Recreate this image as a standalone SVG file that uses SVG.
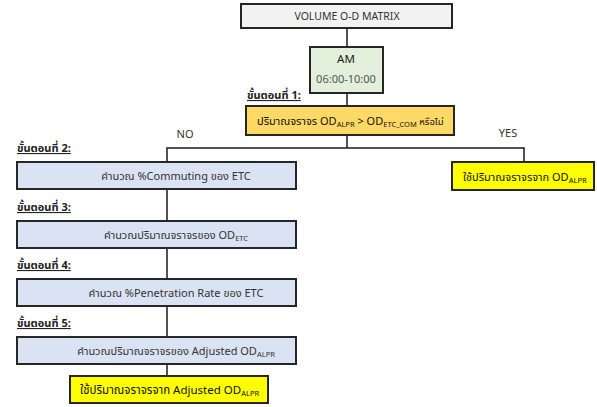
<svg xmlns="http://www.w3.org/2000/svg" width="597" height="407" viewBox="0 0 597 407">
  <style>
    text { font-family: Tahoma, "Noto Sans Thai", "Noto Sans", "DejaVu Sans", sans-serif; }
    .box { stroke: #262626; stroke-width: 2; }
    .grey { fill: #f2f2f2; }
    .green { fill: #e2efda; }
    .gold { fill: #ffd966; }
    .blue { fill: #dae3f3; }
    .yellow { fill: #ffff00; }
    .lbl { font-size: 11px; fill: #333333; text-anchor: middle; }
    .lblk { font-size: 11.5px; fill: #111111; }
    .head { font-size: 11px; font-weight: bold; fill: #222222; text-decoration: underline; }
    .sub { font-size: 7.5px; }
    .conn { stroke: #1a1a1a; stroke-width: 1.5; fill: none; }
  </style>

  <g id="connectors">
    <line class="conn" x1="347" y1="28" x2="347" y2="47"/>
    <line class="conn" x1="347" y1="93" x2="347" y2="106"/>
    <polyline class="conn" points="347,135 347,148"/>
    <polyline class="conn" points="167,162 167,148 524,148 524,162"/>
    <line class="conn" x1="167" y1="189" x2="167" y2="221"/>
    <line class="conn" x1="167" y1="248" x2="167" y2="279"/>
    <line class="conn" x1="167" y1="306" x2="167" y2="337"/>
    <line class="conn" x1="167" y1="364" x2="167" y2="376"/>
    <text x="185" y="138" class="lbl">NO</text>
    <text x="508" y="137" class="lbl">YES</text>
  </g>

  <g id="volume">
    <rect class="box grey" x="241" y="4" width="211" height="24"/>
    <text x="347" y="20" class="lbl" style="font-size:10.5px">VOLUME O-D MATRIX</text>
  </g>

  <g id="am">
    <rect class="box green" x="310" y="47" width="73" height="46"/>
    <text x="346" y="63" class="lbl" style="font-size:11.5px;fill:#222">AM</text>
    <text x="346" y="83" class="lbl" style="fill:#555">06:00-10:00</text>
  </g>

  <g id="step1">
    <text x="247" y="99" class="head">ขั้นตอนที่ 1:</text>
    <rect class="box gold" x="246" y="106" width="208" height="29"/>
    <text x="257" y="125" class="lblk" style="font-size:11px">ปริมาณจราจร OD<tspan class="sub" dy="2">ALPR</tspan><tspan dy="-2"> &gt; OD</tspan><tspan class="sub" dy="2">ETC_COM</tspan><tspan dy="-2" style="font-size:9.5px"> หรือไม่</tspan></text>
  </g>

  <g id="use-alpr">
    <rect class="box yellow" x="452" y="162" width="142" height="28"/>
    <text x="463" y="181" class="lblk" style="font-size:11px">ใช้ปริมาณจราจรจาก OD<tspan class="sub" dy="2">ALPR</tspan></text>
  </g>

  <g id="step2">
    <text x="17" y="152" class="head">ขั้นตอนที่ 2:</text>
    <rect class="box blue" x="17" y="162" width="279" height="27"/>
    <text x="176" y="180" class="lbl">คำนวณ %Commuting ของ ETC</text>
  </g>

  <g id="step3">
    <text x="17" y="211" class="head">ขั้นตอนที่ 3:</text>
    <rect class="box blue" x="17" y="221" width="279" height="27"/>
    <text x="176" y="239" class="lbl">คำนวณปริมาณจราจรของ OD<tspan class="sub" dy="2">ETC</tspan></text>
  </g>

  <g id="step4">
    <text x="17" y="269" class="head">ขั้นตอนที่ 4:</text>
    <rect class="box blue" x="17" y="279" width="279" height="27"/>
    <text x="176" y="297" class="lbl">คำนวณ %Penetration Rate ของ ETC</text>
  </g>

  <g id="step5">
    <text x="17" y="327" class="head">ขั้นตอนที่ 5:</text>
    <rect class="box blue" x="17" y="337" width="279" height="27"/>
    <text x="176" y="355" class="lbl">คำนวณปริมาณจราจรของ Adjusted OD<tspan class="sub" dy="2">ALPR</tspan></text>
  </g>

  <g id="use-adjusted">
    <rect class="box yellow" x="70" y="376" width="198" height="27"/>
    <text x="80" y="394" class="lblk">ใช้ปริมาณจราจรจาก Adjusted OD<tspan class="sub" dy="2">ALPR</tspan></text>
  </g>
</svg>
